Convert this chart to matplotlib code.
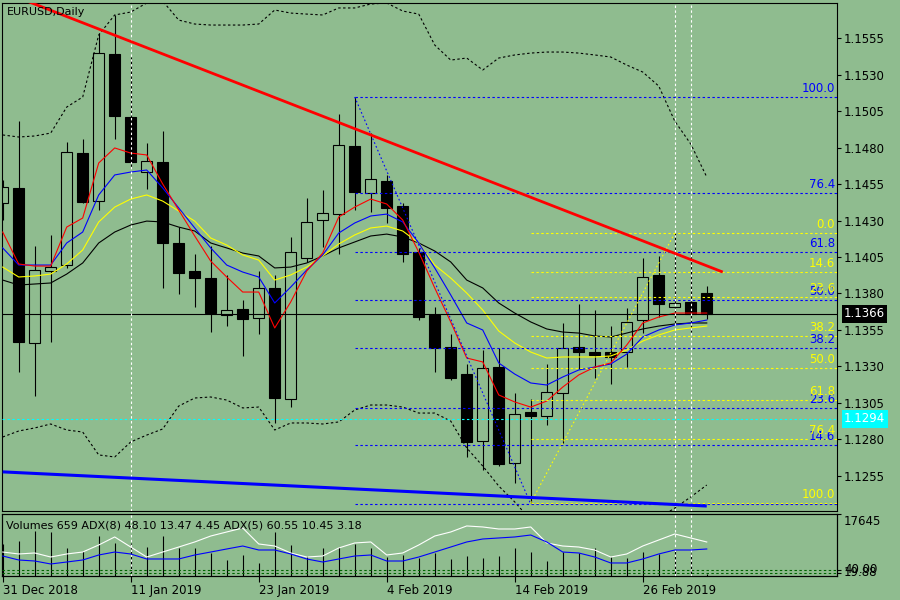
import numpy as np
import matplotlib
matplotlib.use("Agg")
import matplotlib.pyplot as plt

plt.rcParams['font.family'] = ['DejaVu Sans']

BG = '#8FBC8F'

# ---------------- data ----------------
tick_positions = [0, 8, 16, 24, 32, 40]
tick_labels = ['31 Dec 2018', '11 Jan 2019', '23 Jan 2019', '4 Feb 2019', '14 Feb 2019', '26 Feb 2019']

opens = [1.14420, 1.14522, 1.13461, 1.13954, 1.13995, 1.14762, 1.14433, 1.15440, 1.15009, 1.14632,
         1.14701, 1.14146, 1.13954, 1.13906, 1.13653, 1.13694, 1.13632, 1.13838, 1.13077, 1.14043,
         1.14303, 1.14344, 1.14810, 1.14488, 1.14570, 1.14399, 1.14084, 1.13653, 1.13433, 1.13248,
         1.12789, 1.13296, 1.12639, 1.12988, 1.12961, 1.13118, 1.13433, 1.13399, 1.13399, 1.13399,
         1.13618, 1.13927, 1.13707, 1.13742, 1.13803]
highs = [1.14577, 1.14981, 1.14125, 1.14201, 1.14838, 1.14858, 1.15584, 1.15708, 1.15420, 1.14831,
         1.14913, 1.14255, 1.14070, 1.14125, 1.13927, 1.13755, 1.13954, 1.13927, 1.14187, 1.14454,
         1.14509, 1.15029, 1.15146, 1.14899, 1.14612, 1.14420, 1.14112, 1.13707, 1.13522, 1.13317,
         1.13413, 1.13427, 1.13118, 1.13077, 1.13317, 1.13598, 1.13728, 1.13687, 1.13577, 1.13701,
         1.14043, 1.14057, 1.14214, 1.14105, 1.13851]
lows = [1.14303, 1.13262, 1.13098, 1.13468, 1.13975, 1.14420, 1.14372, 1.14858, 1.14660, 1.14516,
        1.13838, 1.13796, 1.13707, 1.13536, 1.13577, 1.13372, 1.13522, 1.12913, 1.13022, 1.14016,
        1.14118, 1.14070, 1.14372, 1.14358, 1.14283, 1.14016, 1.13618, 1.13262, 1.13207, 1.12680,
        1.12591, 1.12618, 1.12502, 1.12365, 1.12899, 1.12776, 1.13283, 1.13221, 1.13180, 1.13296,
        1.13529, 1.13639, 1.13598, 1.13536, 1.13625]
closes = [1.14529, 1.13468, 1.13961, 1.13981, 1.14769, 1.14427, 1.15447, 1.15016, 1.14701, 1.14707,
          1.14146, 1.13940, 1.13906, 1.13666, 1.13687, 1.13625, 1.13838, 1.13084, 1.14084, 1.14290,
          1.14351, 1.14817, 1.14495, 1.14584, 1.14386, 1.14070, 1.13639, 1.13427, 1.13221, 1.12783,
          1.13290, 1.12632, 1.12974, 1.12961, 1.13125, 1.13427, 1.13399, 1.13379, 1.13365, 1.13605,
          1.13913, 1.13728, 1.13735, 1.13660, 1.13660]

ma_red = [1.14221, 1.14002, 1.13988, 1.13988, 1.14255, 1.14317, 1.14694, 1.14797, 1.14762, 1.14749,
          1.14550, 1.14372, 1.14194, 1.14022, 1.13913, 1.13810, 1.13810, 1.13564, 1.13742, 1.13954,
          1.14077, 1.14324, 1.14392, 1.14447, 1.14413, 1.14303, 1.14084, 1.13838, 1.13605, 1.13358,
          1.13331, 1.13105, 1.13057, 1.13022, 1.13063, 1.13159, 1.13242, 1.13296, 1.13324, 1.13447,
          1.13598, 1.13639, 1.13666, 1.13666, 1.13666]
ma_blue = [1.14112, 1.13995, 1.13995, 1.13995, 1.14146, 1.14221, 1.14475, 1.14612, 1.14632, 1.14646,
           1.14523, 1.14386, 1.14249, 1.14112, 1.13995, 1.13947, 1.13913, 1.13735, 1.13844, 1.13961,
           1.14064, 1.14214, 1.14283, 1.14331, 1.14344, 1.14290, 1.14146, 1.13975, 1.13790, 1.13598,
           1.13550, 1.13324, 1.13248, 1.13187, 1.13173, 1.13228, 1.13276, 1.13296, 1.13317, 1.13385,
           1.13502, 1.13550, 1.13584, 1.13598, 1.13618]
ma_yellow = [1.13981, 1.13913, 1.13920, 1.13933, 1.14002, 1.14098, 1.14290, 1.14392, 1.14447, 1.14475,
             1.14433, 1.14365, 1.14296, 1.14180, 1.14132, 1.14064, 1.14029, 1.13892, 1.13927, 1.13981,
             1.14057, 1.14139, 1.14201, 1.14249, 1.14262, 1.14228, 1.14146, 1.13995, 1.13906, 1.13803,
             1.13687, 1.13543, 1.13461, 1.13399, 1.13358, 1.13365, 1.13365, 1.13365, 1.13372, 1.13413,
             1.13474, 1.13516, 1.13550, 1.13564, 1.13577]
ma_black = [1.13892, 1.13858, 1.13865, 1.13872, 1.13933, 1.14009, 1.14146, 1.14221, 1.14269, 1.14296,
            1.14290, 1.14255, 1.14228, 1.14146, 1.14112, 1.14077, 1.14057, 1.13975, 1.13981, 1.14009,
            1.14057, 1.14112, 1.14153, 1.14194, 1.14207, 1.14187, 1.14146, 1.14091, 1.14016, 1.13892,
            1.13838, 1.13735, 1.13666, 1.13605, 1.13557, 1.13536, 1.13529, 1.13509, 1.13502, 1.13529,
            1.13557, 1.13577, 1.13591, 1.13598, 1.13598]
bb_upper = [1.14886, 1.14872, 1.14879, 1.14899, 1.15077, 1.15146, 1.15571, 1.15708, 1.15728, 1.15790,
            1.15803, 1.15673, 1.15646, 1.15639, 1.15639, 1.15639, 1.15646, 1.15742, 1.15721, 1.15714,
            1.15708, 1.15756, 1.15756, 1.15783, 1.15790, 1.15735, 1.15714, 1.15502, 1.15399, 1.15413,
            1.15331, 1.15413, 1.15434, 1.15447, 1.15454, 1.15454, 1.15447, 1.15434, 1.15420, 1.15365,
            1.15317, 1.15221, 1.14981, 1.14824, 1.14598]
bb_lower = [1.12817, 1.12858, 1.12879, 1.12906, 1.12865, 1.12851, 1.12694, 1.12680, 1.12783, 1.12830,
            1.12872, 1.13029, 1.13084, 1.13091, 1.13070, 1.13016, 1.13022, 1.12865, 1.12913, 1.12913,
            1.12906, 1.12920, 1.13002, 1.13036, 1.13036, 1.13022, 1.12981, 1.12981, 1.12926, 1.12742,
            1.12618, 1.12481, 1.12372, 1.12248, 1.12146, 1.12077, 1.12043, 1.12029, 1.12057, 1.12111,
            1.12180, 1.12262, 1.12330, 1.12406, 1.12488]

volumes = [9000, 9961, 12807, 12522, 7969, 7115, 11384, 9392, 9392, 8253,
           11384, 7969, 7969, 6546, 4554, 5977, 3700, 12522, 8823, 5692,
           7969, 8253, 9107, 7969, 5407, 5977, 5123, 6546, 4838, 5692,
           5123, 5692, 7969, 6830, 4269, 6830, 6546, 7969, 5407, 5123,
           6830, 6261, 7684, 6546, 659]
adx5_main = [42.7, 39.2, 41.0, 33.8, 39.2, 42.7, 55.2, 69.5, 51.6, 33.8,
             42.7, 51.6, 60.6, 71.2, 78.4, 85.5, 57.0, 53.4, 41.0, 33.8,
             35.6, 49.9, 58.8, 60.6, 37.4, 41.0, 55.2, 71.2, 78.4, 89.1,
             87.3, 83.7, 83.7, 87.3, 58.8, 53.4, 51.6, 46.3, 33.8, 39.2,
             53.4, 64.1, 74.8, 67.7, 60.55]
adx8_main = [35.6, 28.5, 26.7, 21.4, 24.9, 28.5, 37.4, 42.7, 39.2, 30.3,
             30.3, 30.3, 37.4, 42.7, 48.1, 53.4, 46.3, 46.3, 39.2, 30.3,
             24.9, 30.3, 35.6, 37.4, 26.7, 26.7, 33.8, 42.7, 51.6, 60.6,
             65.9, 67.7, 69.5, 73.0, 60.6, 42.7, 41.0, 33.8, 23.2, 23.2,
             30.3, 39.2, 46.3, 46.3, 48.10]
di_levels = [11.2, 5.7]

fib_pcts = ['0.0', '14.6', '23.6', '38.2', '50.0', '61.8', '76.4', '100.0']
fib_blue_prices = [1.12358, 1.12762, 1.13016, 1.13427, 1.13755, 1.14084, 1.14488, 1.15146]
fib_yellow_prices = [1.14214, 1.13947, 1.13776, 1.13509, 1.13290, 1.13071, 1.12803, 1.12365]
fib_blue_start = 22
fib_yellow_start = 33
fib_blue_diag_x = [22, 33]
fib_blue_diag_y = [1.15146, 1.12358]
fib_yellow_diag_x = [33, 42]
fib_yellow_diag_y = [1.12365, 1.14214]

red_trend_x = [0, 45]
red_trend_y = [1.15868, 1.13947]
blue_trend_x = [0, 44]
blue_trend_y = [1.12578, 1.12344]

current_price = 1.1366
cyan_level = 1.12942
white_vlines = [8, 42, 43]
price_ticks = [1.1255, 1.1280, 1.1305, 1.1330, 1.1355, 1.1380, 1.1405,
               1.1430, 1.1455, 1.1480, 1.1505, 1.1530, 1.1555]
vol_max_label = 17645
adx_top = 110.4

# ---------------- figure ----------------
W, H = 900, 600
fig = plt.figure(figsize=(9, 6), dpi=100, facecolor=BG)


def rect(l, t, r, b):
    return [l / W, 1 - b / H, (r - l) / W, (b - t) / H]


ax = fig.add_axes(rect(2, 3, 837, 511), facecolor=BG)
ax2 = fig.add_axes(rect(2, 514, 837, 576), facecolor=BG)

XMIN, XMAX = -0.044, 52.14
ax.set_xlim(XMIN, XMAX)
ax.set_ylim(1.12310, 1.15790)

DASH = (0, (2.2, 2.2))
LW = 0.8

x = np.arange(len(opens))
o = np.array(opens); c = np.array(closes); h = np.array(highs); l = np.array(lows)
up = c >= o
btop = np.maximum(o, c)
bbot = np.minimum(o, c)

# bollinger
ax.plot(x, bb_upper, color='black', lw=LW, ls=DASH, zorder=2)
ax.plot(x, bb_lower, color='black', lw=LW, ls=DASH, zorder=2)

# candles
ax.vlines(x, btop, h, color='black', lw=LW, zorder=3)
ax.vlines(x, l, bbot, color='black', lw=LW, zorder=3)
ax.bar(x[up], (btop - bbot)[up], bottom=bbot[up], width=0.66, facecolor='none',
       edgecolor='black', linewidth=LW, zorder=3)
ax.bar(x[~up], (btop - bbot)[~up], bottom=bbot[~up], width=0.66, facecolor='black',
       edgecolor='black', linewidth=LW, zorder=3)

# moving averages
ax.plot(x, ma_black, color='black', lw=LW, zorder=4)
ax.plot(x, ma_yellow, color='#ffff00', lw=LW, zorder=4)
ax.plot(x, ma_blue, color='#0000ff', lw=LW, zorder=4)
ax.plot(x, ma_red, color='#ff0000', lw=LW, zorder=4)

# horizontal lines
ax.axhline(current_price, color='black', lw=LW, zorder=5)
ax.axhline(cyan_level, color='#00ffff', lw=LW, ls=DASH, zorder=5)

# fibonacci
for p in fib_blue_prices:
    ax.plot([fib_blue_start, XMAX], [p, p], color='#0000ff', lw=LW, ls=DASH, zorder=5)
for p in fib_yellow_prices:
    ax.plot([fib_yellow_start, XMAX], [p, p], color='#ffff00', lw=LW, ls=DASH, zorder=5)
ax.plot(fib_blue_diag_x, fib_blue_diag_y, color='#0000ff', lw=LW, ls=(0, (1.5, 2.2)), zorder=5)
ax.plot(fib_yellow_diag_x, fib_yellow_diag_y, color='#ffff00', lw=LW, ls=(0, (1.5, 2.2)), zorder=5)

lab_x = (835 - 2) / 835
# blue 0.0 label is hidden under the yellow 100.0 label in the reference
for p, t in list(zip(fib_blue_prices, fib_pcts))[1:]:
    ax.annotate(t, xy=(lab_x, p), xycoords=('axes fraction', 'data'), xytext=(0, 2),
                textcoords='offset pixels', ha='right', va='bottom', color='#0000ff',
                fontsize=8.5, zorder=6)
for p, t in zip(fib_yellow_prices, fib_pcts):
    ax.annotate(t, xy=(lab_x, p), xycoords=('axes fraction', 'data'), xytext=(0, 2),
                textcoords='offset pixels', ha='right', va='bottom', color='#ffff00',
                fontsize=8.5, zorder=6)

# trend lines
ax.plot(red_trend_x, red_trend_y, color='#ff0000', lw=2.0, zorder=6, solid_capstyle='butt')
ax.plot(blue_trend_x, blue_trend_y, color='#0000ff', lw=2.2, zorder=6, solid_capstyle='butt')

# white verticals
for xv in white_vlines:
    ax.axvline(xv, color='white', lw=LW, ls=DASH, zorder=5)
    ax2.axvline(xv, color='white', lw=LW, ls=DASH, zorder=5)

# axis styling main
ax.set_xticks([])
ax.yaxis.tick_right()
ax.set_yticks(price_ticks)
ax.set_yticklabels([f'{p:.4f}' for p in price_ticks])
ax.tick_params(axis='y', direction='out', length=3, width=LW, pad=2, labelsize=8.5, colors='black')
for s in ax.spines.values():
    s.set_color('black'); s.set_linewidth(LW)

ax.text(5 / 835, 1 - 9 / 508, 'EURUSD,Daily', transform=ax.transAxes, ha='left', va='center',
        fontsize=8, color='black', zorder=7)

# price boxes
ax.annotate(f'{current_price:.4f}', xy=(1, current_price), xycoords=('axes fraction', 'data'),
            xytext=(7, 0), textcoords='offset pixels', ha='left', va='center', color='white',
            fontsize=8.5, annotation_clip=False,
            bbox=dict(boxstyle='square,pad=0.2', fc='black', ec='none'))
ax.annotate(f'{cyan_level:.4f}', xy=(1, cyan_level), xycoords=('axes fraction', 'data'),
            xytext=(7, 0), textcoords='offset pixels', ha='left', va='center', color='white',
            fontsize=8.5, annotation_clip=False,
            bbox=dict(boxstyle='square,pad=0.2', fc='#00ffff', ec='none'))

# ---------------- lower panel ----------------
ax2.set_xlim(XMIN, XMAX)
ax2.set_ylim(0, vol_max_label)
ax2.vlines(x, 0, volumes, color='black', lw=LW, zorder=2)
ax2.set_yticks([])
ax2.set_xticks(tick_positions)
ax2.set_xticklabels(tick_labels)
ax2.tick_params(axis='x', direction='out', length=4, width=LW, pad=2, labelsize=8.5, colors='black')
for lbl in ax2.get_xticklabels():
    lbl.set_ha('left')
for s in ax2.spines.values():
    s.set_color('black'); s.set_linewidth(LW)

ax3 = ax2.twinx()
ax3.set_xlim(XMIN, XMAX)
ax3.set_ylim(0, adx_top)
for lvl in di_levels:
    ax3.axhline(lvl, color='#006400', lw=LW, ls=DASH, zorder=3)
ax3.plot(x, adx5_main, color='white', lw=LW, zorder=4)
ax3.plot(x, adx8_main, color='#0000ff', lw=LW, zorder=4)
ax3.set_yticks([adx_top] + di_levels)
ax3.set_yticklabels(['', '', ''])
ax3.tick_params(axis='y', direction='out', length=3, width=LW, colors='black')
for s in ax3.spines.values():
    s.set_color('black'); s.set_linewidth(LW)

ax3.annotate(str(vol_max_label), xy=(1, adx_top), xycoords=('axes fraction', 'data'),
             xytext=(7, -1), textcoords='offset pixels', ha='left', va='top', fontsize=8.5,
             color='black', annotation_clip=False)
ax3.annotate('40.00', xy=(1, 10.7), xycoords=('axes fraction', 'data'),
             xytext=(7, 0), textcoords='offset pixels', ha='left', va='center', fontsize=8.5,
             color='black', annotation_clip=False)
ax3.annotate('19.88', xy=(1, 6.2), xycoords=('axes fraction', 'data'),
             xytext=(7, 0), textcoords='offset pixels', ha='left', va='center', fontsize=8.5,
             color='black', annotation_clip=False)
ax3.text(4 / 835, 1 - 11 / 62, 'Volumes 659 ADX(8) 48.10 13.47 4.45 ADX(5) 60.55 10.45 3.18',
         transform=ax3.transAxes, ha='left', va='center', fontsize=8, color='black', zorder=6)

fig.savefig('out.png', dpi=100, facecolor=BG)
